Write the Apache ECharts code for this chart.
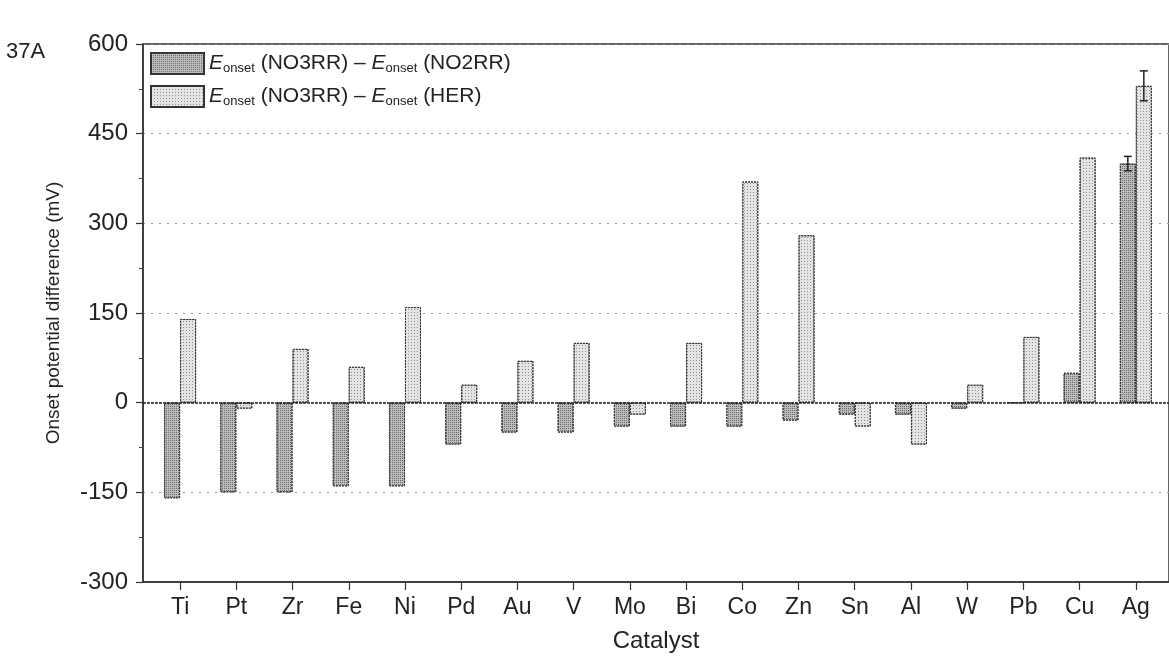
<!DOCTYPE html>
<html>
<head>
<meta charset="utf-8">
<script src="https://cdn.jsdelivr.net/npm/echarts@6/dist/echarts.min.js"></script>
<style>
  html, body { margin: 0; padding: 0; background: #fff; }
  #main { width: 1169px; height: 656px; }
</style>
</head>
<body>
<div id="main"></div>
<script>
// catalysts on the x axis (position 1..18)
var catalysts = ['Ti', 'Pt', 'Zr', 'Fe', 'Ni', 'Pd', 'Au', 'V', 'Mo', 'Bi', 'Co', 'Zn', 'Sn', 'Al', 'W', 'Pb', 'Cu', 'Ag'];
var seriesNames = ['E_onset (NO3RR) – E_onset (NO2RR)', 'E_onset (NO3RR) – E_onset (HER)'];
// onset potential differences, mV
var diffNO2RR = [-160, -150, -150, -140, -140, -70, -50, -50, -40, -40, -40, -30, -20, -20, -10, 0, 50, 400];
var diffHER = [140, -10, 90, 60, 160, 30, 70, 100, -20, 100, 370, 280, -40, -70, 30, 110, 410, 530];
// error bars (only Ag has them)
var errNO2RR = [0, 0, 0, 0, 0, 0, 0, 0, 0, 0, 0, 0, 0, 0, 0, 0, 0, 12];
var errHER = [0, 0, 0, 0, 0, 0, 0, 0, 0, 0, 0, 0, 0, 0, 0, 0, 0, 25];
var yTicks = [-300, -150, 0, 150, 300, 450, 600];

var positions = catalysts.map(function (c, i) { return i + 1; });
var font = 'Liberation Sans, Arial, sans-serif';

function barData(vals) {
  return vals.map(function (v, i) { return [positions[i], v]; });
}
function errData(vals, errs) {
  var out = [];
  vals.forEach(function (v, i) {
    if (errs[i] > 0) out.push([positions[i], v, errs[i]]);
  });
  return out;
}
function errorBar(shift) {
  return function (params, api) {
    var x = api.value(0), v = api.value(1), e = api.value(2);
    var hi = api.coord([x, v + e]);
    var lo = api.coord([x, v - e]);
    var cx = hi[0] + shift;
    var style = { stroke: '#222', lineWidth: 1.5, fill: null };
    return {
      type: 'group',
      children: [
        { type: 'line', shape: { x1: cx, y1: hi[1], x2: cx, y2: lo[1] }, style: style },
        { type: 'line', shape: { x1: cx - 4, y1: hi[1], x2: cx + 4, y2: hi[1] }, style: style },
        { type: 'line', shape: { x1: cx - 4, y1: lo[1], x2: cx + 4, y2: lo[1] }, style: style }
      ]
    };
  };
}

var myChart = echarts.init(document.getElementById('main'));
myChart.setOption({
  animation: false,
  backgroundColor: '#fff',
  title: {
    text: '37A',
    left: 1,
    top: 36,
    textStyle: { fontFamily: font, fontSize: 22, fontWeight: 'normal', color: '#222' }
  },
  legend: {
    left: 145,
    top: 47,
    orient: 'vertical',
    icon: 'rect',
    itemWidth: 53,
    itemHeight: 21,
    itemGap: 10,
    data: seriesNames,
    formatter: function (name) {
      return name.replace(/E_onset/g, '{i|E}{s|onset}');
    },
    textStyle: {
      fontFamily: font,
      fontSize: 21,
      color: '#222',
      rich: {
        i: { fontFamily: font, fontSize: 21, fontStyle: 'italic', color: '#222' },
        s: { fontFamily: font, fontSize: 13, color: '#222', padding: [9, 0, 0, 0] }
      }
    }
  },
  grid: {
    left: 143,
    right: 0,
    top: 44,
    bottom: 74,
    outerBoundsMode: 'none',
    show: true,
    borderColor: '#333',
    borderWidth: 1.5
  },
  xAxis: {
    type: 'value',
    min: 0.34,
    max: 18.59,
    name: 'Catalyst',
    nameLocation: 'middle',
    nameGap: 47,
    nameTextStyle: { fontFamily: font, fontSize: 24, color: '#222' },
    axisLine: { onZero: false, lineStyle: { color: '#333', width: 1.5 } },
    axisTick: {
      customValues: positions,
      length: 8,
      lineStyle: { color: '#333', width: 1.2 }
    },
    axisLabel: {
      customValues: positions,
      margin: 14,
      fontFamily: font,
      fontSize: 23,
      color: '#222',
      formatter: function (v) { return catalysts[Math.round(v) - 1] || ''; }
    },
    splitLine: { show: false }
  },
  yAxis: {
    type: 'value',
    min: yTicks[0],
    max: yTicks[yTicks.length - 1],
    interval: 150,
    name: 'Onset potential difference (mV)',
    nameLocation: 'middle',
    nameGap: 80,
    nameTextStyle: { fontFamily: font, fontSize: 19, color: '#222' },
    axisLine: { show: true, lineStyle: { color: '#333', width: 1.5 } },
    axisTick: { show: true, length: 7, lineStyle: { color: '#333', width: 1.2 } },
    minorTick: { show: true, splitNumber: 2, length: 4, lineStyle: { color: '#444' } },
    axisLabel: { margin: 15, fontFamily: font, fontSize: 24, color: '#222' },
    splitLine: { show: true, lineStyle: { color: '#999', type: [2, 6], width: 1.2 } }
  },
  series: [
    {
      name: seriesNames[0],
      type: 'bar',
      data: barData(diffNO2RR),
      barWidth: 16,
      barGap: '0%',
      itemStyle: {
        color: '#bdbdbd',
        borderColor: '#333',
        borderWidth: 1,
        borderType: [2, 1],
        decal: {
          symbol: 'rect',
          symbolSize: 1,
          color: 'rgba(40,40,40,0.55)',
          dashArrayX: [1, 1],
          dashArrayY: [1, 1]
        }
      },
      markLine: {
        silent: true,
        symbol: 'none',
        label: { show: false },
        lineStyle: { color: '#222', type: [3, 1], width: 1.5 },
        data: [{ yAxis: 0 }]
      }
    },
    {
      name: seriesNames[1],
      type: 'bar',
      data: barData(diffHER),
      barWidth: 16,
      barGap: '0%',
      itemStyle: {
        color: '#e4e4e4',
        borderColor: '#333',
        borderWidth: 1,
        borderType: [2, 1],
        decal: {
          symbol: 'rect',
          symbolSize: 1,
          color: 'rgba(60,60,60,0.5)',
          dashArrayX: [1, 2],
          dashArrayY: [1, 2]
        }
      }
    },
    {
      type: 'custom',
      renderItem: errorBar(-8),
      data: errData(diffNO2RR, errNO2RR),
      z: 5
    },
    {
      type: 'custom',
      renderItem: errorBar(8),
      data: errData(diffHER, errHER),
      z: 5
    }
  ]
});
</script>
</body>
</html>
